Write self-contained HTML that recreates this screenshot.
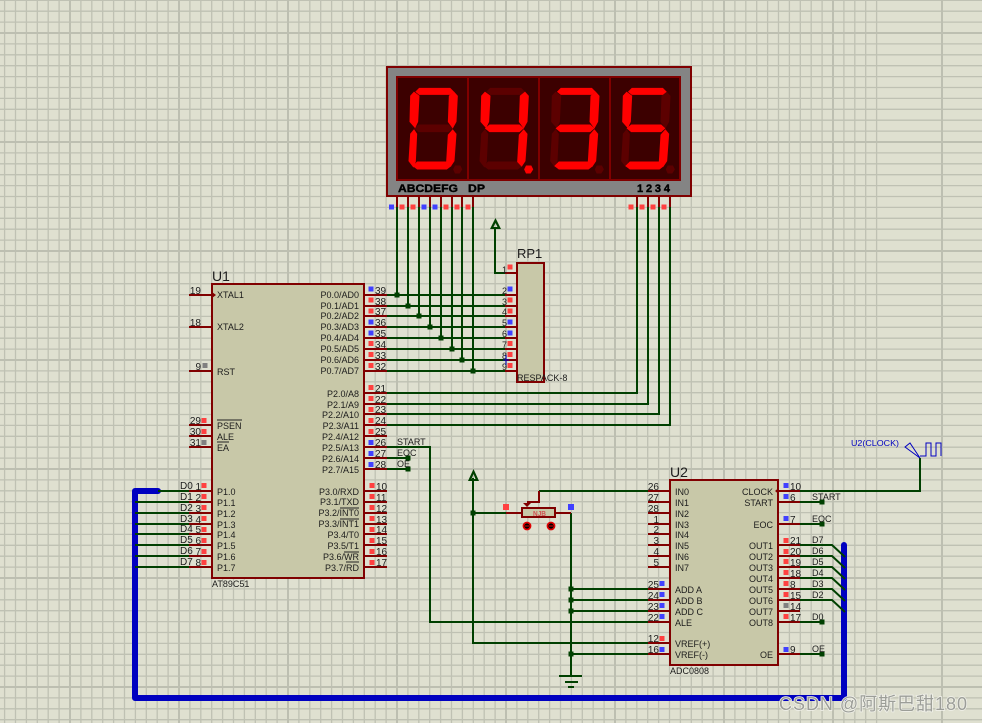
<!DOCTYPE html>
<html><head><meta charset="utf-8"><style>
html,body{margin:0;padding:0;background:#dfe0d0}
svg{display:block}
text{font-family:"Liberation Sans","Noto Sans CJK SC",sans-serif;font-size:9px;fill:#1c1c1c}
.r{text-anchor:end}
.n{font-size:10px}
.big{font-size:14px}
</style></head><body>
<svg width="982" height="723" viewBox="0 0 982 723" xmlns="http://www.w3.org/2000/svg">
<rect width="982" height="723" fill="#dfe0d0"/>
<path fill="none" stroke="#bfc1b3" stroke-width="1.300" d="M4.600 0v723m10.900-723v723m10.900-723v723m10.900-723v723m10.900-723v723m10.900-723v723m21.800-723v723m10.900-723v723m10.900-723v723m10.900-723v723m10.900-723v723m10.900-723v723m10.900-723v723m10.900-723v723m10.900-723v723m21.800-723v723m10.900-723v723m10.900-723v723m10.900-723v723m10.900-723v723m10.900-723v723m10.900-723v723m10.900-723v723m10.900-723v723m21.800-723v723m10.900-723v723m10.900-723v723m10.900-723v723m10.900-723v723m10.900-723v723m10.900-723v723m10.900-723v723m10.900-723v723m21.800-723v723m10.900-723v723m10.900-723v723m10.900-723v723m10.900-723v723m10.900-723v723m10.900-723v723m10.900-723v723m10.900-723v723m21.800-723v723m10.900-723v723m10.900-723v723m10.900-723v723m10.900-723v723m10.900-723v723m10.900-723v723m10.900-723v723m10.900-723v723m21.800-723v723m10.900-723v723m10.900-723v723m10.900-723v723m10.900-723v723m10.900-723v723m10.900-723v723m10.900-723v723m10.900-723v723m21.800-723v723m10.900-723v723m10.900-723v723m10.900-723v723m10.900-723v723m10.900-723v723m10.900-723v723m10.900-723v723m10.900-723v723m21.800-723v723m10.900-723v723m10.900-723v723m10.900-723v723"/>
<path fill="none" stroke="#bfc1b3" stroke-width="1.300" d="M0 .3h982m-982 10.900h982m-982 10.900h982m-982 21.800h982m-982 10.900h982m-982 10.900h982m-982 10.900h982m-982 10.900h982m-982 10.900h982m-982 10.900h982m-982 10.900h982m-982 10.900h982m-982 21.800h982m-982 10.900h982m-982 10.900h982m-982 10.900h982m-982 10.900h982m-982 10.900h982m-982 10.900h982m-982 10.900h982m-982 10.900h982m-982 21.800h982m-982 10.900h982m-982 10.900h982m-982 10.900h982m-982 10.900h982m-982 10.900h982m-982 10.900h982m-982 10.900h982m-982 10.900h982m-982 21.800h982m-982 10.900h982m-982 10.900h982m-982 10.900h982m-982 10.900h982m-982 10.900h982m-982 10.900h982m-982 10.900h982m-982 10.900h982m-982 21.800h982m-982 10.900h982m-982 10.900h982m-982 10.900h982m-982 10.900h982m-982 10.900h982m-982 10.900h982m-982 10.900h982m-982 10.900h982m-982 21.800h982m-982 10.900h982m-982 10.900h982m-982 10.900h982m-982 10.900h982m-982 10.900h982m-982 10.900h982m-982 10.900h982m-982 10.900h982m-982 21.800h982m-982 10.900h982m-982 10.900h982m-982 10.900h982"/>
<path fill="none" stroke="#bdbfb1" stroke-width="2" d="M70 0v723M179 0v723M288 0v723M397 0v723M506 0v723M615 0v723M724 0v723M833 0v723M942 0v723M0 33h982M0 142h982M0 251h982M0 360h982M0 469h982M0 578h982M0 687h982"/>

<!-- bus -->
<path d="M158 491H135V698H844V545" fill="none" stroke="#0000c0" stroke-width="6" stroke-linecap="round" stroke-linejoin="round"/>

<!-- green wires -->
<path fill="none" stroke="#004000" stroke-width="2" shape-rendering="crispEdges" d="M397 207V295M408 207V306M419 207V316M430 207V327M441 207V338M452 207V349M462 207V360M473 207V371M387 295H505M387 306H505M387 316H505M387 327H505M387 338H505M387 349H505M387 360H505M387 371H505M387 393H637V207M387 404H648V207M387 414H659V207M387 425H670V207M387 447H430V622H648M387 458H408M387 469H408M495 228V273H505M158 491H189M135 502H189M135 513H189M135 524H189M135 534H189M135 545H189M135 556H189M135 567H189M473 478V643H648M473 513H506M571 513V676M571 589H648M571 600H648M571 611H648M571 654H648M559 676H582M565 682H578M568 687H574M800 491H920V458M800 502H822M800 524H822M800 622H822M800 654H822"/>
<path fill="none" stroke="#004000" stroke-width="2" d="M539 491H648M800 545H832L845 557M800 556H832L845 568M800 567H832L845 579M800 578H832L845 590M800 589H832L845 601M800 600H832L845 612"/>
<path fill="#004000" d="M394.500 292.500h5v5h-5zM405.500 303.500h5v5h-5zM416.500 313.500h5v5h-5zM427.500 324.500h5v5h-5zM438.500 335.500h5v5h-5zM449.500 346.500h5v5h-5zM459.500 357.500h5v5h-5zM470.500 368.500h5v5h-5zM405.500 455.500h5v5h-5zM405.500 466.500h5v5h-5zM470.500 510.500h5v5h-5zM568.500 586.500h5v5h-5zM568.500 597.500h5v5h-5zM568.500 608.500h5v5h-5zM568.500 651.500h5v5h-5zM819.500 499.500h5v5h-5zM819.500 521.500h5v5h-5zM819.500 619.500h5v5h-5zM819.500 651.500h5v5h-5z"/>
<path d="M473.500 469L468 481H479Z M473.500 474L471.500 479H475.500Z" fill="#004000" fill-rule="evenodd"/>
<path d="M495.500 218L490 229H501Z M495.500 223L493.500 227H497.500Z" fill="#004000" fill-rule="evenodd"/>

<!-- red pins -->
<path fill="none" stroke="#800000" stroke-width="2" shape-rendering="crispEdges" d="M397 196V207M408 196V207M419 196V207M430 196V207M441 196V207M452 196V207M462 196V207M473 196V207M637 196V207M648 196V207M659 196V207M670 196V207
M189 295H212M189 327H212M189 371H212M189 425H212M189 436H212M189 447H212M189 491H212M189 502H212M189 513H212M189 524H212M189 534H212M189 545H212M189 556H212M189 567H212
M365 295H387M365 306H387M365 316H387M365 327H387M365 338H387M365 349H387M365 360H387M365 371H387M365 393H387M365 404H387M365 414H387M365 425H387M365 436H387M365 447H387M365 458H387M365 469H387M365 491H387M365 502H387M365 513H387M365 524H387M365 534H387M365 545H387M365 556H387M365 567H387
M505 273H517M505 295H517M505 306H517M505 316H517M505 327H517M505 338H517M505 349H517M505 360H517M505 371H517
M648 491H670M648 502H670M648 513H670M648 524H670M648 534H670M648 545H670M648 556H670M648 567H670M648 589H670M648 600H670M648 611H670M648 622H670M648 643H670M648 654H670
M778 491H800M778 502H800M778 524H800M778 545H800M778 556H800M778 567H800M778 578H800M778 589H800M778 600H800M778 611H800M778 622H800M778 654H800
M506 513H522M555 513H571M539 491V502H527"/>

<!-- display -->
<rect x="387" y="67" width="304" height="129" fill="#848484" stroke="#800000" stroke-width="2"/>
<rect x="397" y="77" width="283" height="103" fill="#3c0000" stroke="#800000" stroke-width="2"/>
<path d="M468 77V180M539 77V180M610 77V180" stroke="#800000" stroke-width="2"/>
<defs>
<polygon id="a" points="108,95 118,85 210,85 220,95 210,103 118,103"/>
<polygon id="f" points="92,108 102,97 117,108 113,185 105,202 90,185"/>
<polygon id="b" points="222,97 232,108 228,185 218,203 205,185 208,108"/>
<polygon id="g" points="104,205 116,195 205,195 216,205 205,215 116,215"/>
<polygon id="e" points="92,222 102,210 110,222 106,305 100,320 87,303"/>
<polygon id="c" points="218,210 228,222 222,303 212,318 200,305 205,225"/>
<polygon id="d" points="100,318 112,306 200,306 212,318 200,327 112,327"/>
<polygon id="p" points="226,318 240,318 245,328 238,339 226,339 221,328"/>
</defs>
<g transform="translate(380 60) scale(.33333)" stroke-width="3">
<g fill="#5c0000" stroke="#5c0000"><use href="#g"/><use href="#p"/></g>
<g fill="#ff0000" stroke="#ff0000"><use href="#a"/><use href="#f"/><use href="#b"/><use href="#e"/><use href="#c"/><use href="#d"/></g>
<g transform="translate(213 0)"><g fill="#5c0000" stroke="#5c0000"><use href="#a"/><use href="#e"/><use href="#d"/></g><g fill="#ff0000" stroke="#ff0000"><use href="#f"/><use href="#b"/><use href="#g"/><use href="#c"/><use href="#p"/></g></g>
<g transform="translate(425 0)"><g fill="#5c0000" stroke="#5c0000"><use href="#f"/><use href="#e"/><use href="#p"/></g><g fill="#ff0000" stroke="#ff0000"><use href="#a"/><use href="#b"/><use href="#g"/><use href="#c"/><use href="#d"/></g></g>
<g transform="translate(638 0)"><g fill="#5c0000" stroke="#5c0000"><use href="#b"/><use href="#e"/><use href="#p"/></g><g fill="#ff0000" stroke="#ff0000"><use href="#a"/><use href="#f"/><use href="#g"/><use href="#c"/><use href="#d"/></g></g>
</g>
<text x="398" y="192" textLength="60" lengthAdjust="spacingAndGlyphs" style="font-size:11px;font-weight:bold;fill:#000;stroke:#000;stroke-width:.4">ABCDEFG</text>
<text x="468" y="192" textLength="17" lengthAdjust="spacingAndGlyphs" style="font-size:11px;font-weight:bold;fill:#000;stroke:#000;stroke-width:.4">DP</text>
<text x="637" y="192" textLength="33" lengthAdjust="spacing" style="font-size:11px;font-weight:bold;fill:#000;stroke:#000;stroke-width:.4">1234</text>

<!-- pin squares -->
<path fill="#ff4040" d="M399.500 204.500h5v5h-5zM410.500 204.500h5v5h-5zM443.500 204.500h5v5h-5zM454.500 204.500h5v5h-5zM465.500 204.500h5v5h-5zM628.500 204.500h5v5h-5zM639.500 204.500h5v5h-5zM650.500 204.500h5v5h-5zM661.500 204.500h5v5h-5z
M507.500 264.500h5v5h-5zM507.500 308.500h5v5h-5zM507.500 297.500h5v5h-5zM507.500 341h5v5h-5zM507.500 352h5v5h-5zM507.500 363h5v5h-5z
M368.500 297.500h5v5h-5zM368.500 308.500h5v5h-5zM368.500 341h5v5h-5zM368.500 352h5v5h-5zM368.500 363h5v5h-5zM368.500 385h5v5h-5zM368.500 396h5v5h-5zM368.500 407h5v5h-5zM368.500 418h5v5h-5zM368.500 429h5v5h-5z
M369.500 483h5v5h-5zM369.500 494h5v5h-5zM369.500 505h5v5h-5zM369.500 516h5v5h-5zM369.500 527h5v5h-5zM369.500 538h5v5h-5zM369.500 549h5v5h-5zM369.500 560h5v5h-5z
M201.500 418h5v5h-5zM201.500 429h5v5h-5zM201.500 483h5v5h-5zM201.500 494h5v5h-5zM201.500 505h5v5h-5zM201.500 516h5v5h-5zM201.500 527h5v5h-5zM201.500 538h5v5h-5zM201.500 549h5v5h-5zM201.500 560h5v5h-5z
M503 504h6v6h-6zM659.500 636h5v5h-5zM783.500 538h5v5h-5zM783.500 549h5v5h-5zM783.500 559h5v5h-5zM783.500 570h5v5h-5zM783.500 581h5v5h-5zM783.500 592h5v5h-5zM783.500 614h5v5h-5z"/>
<path fill="#4040ff" d="M389 204.500h5v5h-5zM421.500 204.500h5v5h-5zM432.500 204.500h5v5h-5zM507.500 286.500h5v5h-5zM507.500 319.500h5v5h-5zM507.500 330.500h5v5h-5z
M368.500 286.500h5v5h-5zM368.500 319.500h5v5h-5zM368.500 330.500h5v5h-5zM368.500 440h5v5h-5zM368.500 451h5v5h-5zM368.500 462h5v5h-5z
M568 504h6v6h-6zM659.500 581h5v5h-5zM659.500 592h5v5h-5zM659.500 603h5v5h-5zM659.500 614h5v5h-5zM659.500 647h5v5h-5zM783.500 483h5v5h-5zM783.500 494h5v5h-5zM783.500 516h5v5h-5zM783.500 647h5v5h-5z"/>
<path fill="#808080" d="M202.500 363h5v5h-5zM201.500 440h5v5h-5zM783.500 603h5v5h-5z"/>

<!-- RP1 -->
<rect x="517" y="263" width="27" height="119" fill="#c8c8a8" stroke="#800000" stroke-width="2"/>
<text x="517" y="258" class="big" style="font-size:13px">RP1</text>
<text x="517" y="381">RESPACK-8</text>
<g class="n"><text x="507" y="273" class="r">1</text><text x="507" y="294" class="r">2</text><text x="507" y="305" class="r">3</text><text x="507" y="315" class="r">4</text><text x="507" y="326" class="r">5</text><text x="507" y="337" class="r">6</text><text x="507" y="348" class="r">7</text><text x="507" y="359" class="r">8</text><text x="507" y="370" class="r">9</text></g>
<path d="M506 355V365M503 360H509" stroke="#0000c0" stroke-width="1"/>

<!-- U1 -->
<rect x="212" y="284" width="152" height="294" fill="#c8c8a8" stroke="#800000" stroke-width="2"/>
<path d="M212 292L216 295L212 298Z" fill="#800000"/>
<text x="212" y="281" class="big">U1</text>
<text x="212" y="587">AT89C51</text>
<text x="217" y="298">XTAL1</text><text x="217" y="330">XTAL2</text><text x="217" y="375">RST</text>
<text x="217" y="429">PSEN</text><text x="217" y="440">ALE</text><text x="217" y="451">EA</text>
<path d="M217 420H242M217 442H229" stroke="#222" stroke-width="1"/>
<text x="217" y="495">P1.0</text><text x="217" y="506">P1.1</text><text x="217" y="517">P1.2</text><text x="217" y="528">P1.3</text><text x="217" y="538">P1.4</text><text x="217" y="549">P1.5</text><text x="217" y="560">P1.6</text><text x="217" y="571">P1.7</text>
<g>
<text x="359" y="298" class="r">P0.0/AD0</text><text x="359" y="309" class="r">P0.1/AD1</text><text x="359" y="319" class="r">P0.2/AD2</text><text x="359" y="330" class="r">P0.3/AD3</text><text x="359" y="341" class="r">P0.4/AD4</text><text x="359" y="352" class="r">P0.5/AD5</text><text x="359" y="363" class="r">P0.6/AD6</text><text x="359" y="374" class="r">P0.7/AD7</text>
<text x="359" y="397" class="r">P2.0/A8</text><text x="359" y="408" class="r">P2.1/A9</text><text x="359" y="418" class="r">P2.2/A10</text><text x="359" y="429" class="r">P2.3/A11</text><text x="359" y="440" class="r">P2.4/A12</text><text x="359" y="451" class="r">P2.5/A13</text><text x="359" y="462" class="r">P2.6/A14</text><text x="359" y="473" class="r">P2.7/A15</text>
<text x="359" y="495" class="r">P3.0/RXD</text><text x="359" y="505" class="r">P3.1/TXD</text><text x="359" y="516" class="r">P3.2/INT0</text><text x="359" y="527" class="r">P3.3/INT1</text><text x="359" y="538" class="r">P3.4/T0</text><text x="359" y="549" class="r">P3.5/T1</text><text x="359" y="560" class="r">P3.6/WR</text><text x="359" y="571" class="r">P3.7/RD</text>
</g>
<path d="M340 508H359M340 519H359M344 552H359M346 562H359" stroke="#222" stroke-width="1"/>
<g>
<text x="201" y="294" class="r n">19</text><text x="201" y="326" class="r n">18</text><text x="201" y="370" class="r n">9</text><text x="201" y="424" class="r n">29</text><text x="201" y="435" class="r n">30</text><text x="201" y="446" class="r n">31</text>
<text x="201" y="490" class="r n">1</text><text x="201" y="501" class="r n">2</text><text x="201" y="512" class="r n">3</text><text x="201" y="523" class="r n">4</text><text x="201" y="533" class="r n">5</text><text x="201" y="544" class="r n">6</text><text x="201" y="555" class="r n">7</text><text x="201" y="566" class="r n">8</text>
<text x="180" y="489" class="n">D0</text><text x="180" y="500" class="n">D1</text><text x="180" y="511" class="n">D2</text><text x="180" y="522" class="n">D3</text><text x="180" y="532" class="n">D4</text><text x="180" y="543" class="n">D5</text><text x="180" y="554" class="n">D6</text><text x="180" y="565" class="n">D7</text>
<text x="375" y="294" class="n">39</text><text x="375" y="305" class="n">38</text><text x="375" y="315" class="n">37</text><text x="375" y="326" class="n">36</text><text x="375" y="337" class="n">35</text><text x="375" y="348" class="n">34</text><text x="375" y="359" class="n">33</text><text x="375" y="370" class="n">32</text>
<text x="375" y="392" class="n">21</text><text x="375" y="403" class="n">22</text><text x="375" y="413" class="n">23</text><text x="375" y="424" class="n">24</text><text x="375" y="435" class="n">25</text><text x="375" y="446" class="n">26</text><text x="375" y="457" class="n">27</text><text x="375" y="468" class="n">28</text>
<text x="376" y="490" class="n">10</text><text x="376" y="501" class="n">11</text><text x="376" y="512" class="n">12</text><text x="376" y="523" class="n">13</text><text x="376" y="533" class="n">14</text><text x="376" y="544" class="n">15</text><text x="376" y="555" class="n">16</text><text x="376" y="566" class="n">17</text>
<text x="397" y="445">START</text><text x="397" y="456">EOC</text><text x="397" y="467">OE</text>
</g>

<!-- pot -->
<rect x="522" y="508" width="33" height="9" fill="#c8c8a8" stroke="#800000" stroke-width="2"/>
<text x="533" y="516" textLength="13" lengthAdjust="spacingAndGlyphs" style="font-size:7px;font-weight:bold;fill:#d05050">NJB</text>
<path d="M523 503H531L527 507Z" fill="#800000"/>
<g fill="#000" stroke="#e00000" stroke-width="1.800"><circle cx="527" cy="526" r="3.500"/><circle cx="551" cy="526" r="3.500"/></g>
<path d="M525 526H529M549 526H553" stroke="#e00000" stroke-width="1"/>

<!-- U2 -->
<rect x="670" y="480" width="108" height="185" fill="#c8c8a8" stroke="#800000" stroke-width="2"/>
<path d="M778 488.500L775 491L778 493.500Z" fill="#800000"/>
<text x="670" y="477" class="big">U2</text>
<text x="670" y="674">ADC0808</text>
<text x="675" y="495">IN0</text><text x="675" y="506">IN1</text><text x="675" y="517">IN2</text><text x="675" y="528">IN3</text><text x="675" y="538">IN4</text><text x="675" y="549">IN5</text><text x="675" y="560">IN6</text><text x="675" y="571">IN7</text>
<text x="675" y="593">ADD A</text><text x="675" y="604">ADD B</text><text x="675" y="615">ADD C</text><text x="675" y="626">ALE</text><text x="675" y="647">VREF(+)</text><text x="675" y="658">VREF(-)</text>
<text x="773" y="495" class="r">CLOCK</text><text x="773" y="506" class="r">START</text><text x="773" y="528" class="r">EOC</text><text x="773" y="549" class="r">OUT1</text><text x="773" y="560" class="r">OUT2</text><text x="773" y="571" class="r">OUT3</text><text x="773" y="582" class="r">OUT4</text><text x="773" y="593" class="r">OUT5</text><text x="773" y="604" class="r">OUT6</text><text x="773" y="615" class="r">OUT7</text><text x="773" y="626" class="r">OUT8</text><text x="773" y="658" class="r">OE</text>
<text x="659" y="490" class="r n">26</text><text x="659" y="501" class="r n">27</text><text x="659" y="512" class="r n">28</text><text x="659" y="523" class="r n">1</text><text x="659" y="533" class="r n">2</text><text x="659" y="544" class="r n">3</text><text x="659" y="555" class="r n">4</text><text x="659" y="566" class="r n">5</text><text x="659" y="588" class="r n">25</text><text x="659" y="599" class="r n">24</text><text x="659" y="610" class="r n">23</text><text x="659" y="621" class="r n">22</text><text x="659" y="642" class="r n">12</text><text x="659" y="653" class="r n">16</text>
<text x="790" y="490" class="n">10</text><text x="790" y="501" class="n">6</text><text x="790" y="523" class="n">7</text><text x="790" y="544" class="n">21</text><text x="790" y="555" class="n">20</text><text x="790" y="566" class="n">19</text><text x="790" y="577" class="n">18</text><text x="790" y="588" class="n">8</text><text x="790" y="599" class="n">15</text><text x="790" y="610" class="n">14</text><text x="790" y="621" class="n">17</text><text x="790" y="653" class="n">9</text>
<text x="812" y="500">START</text><text x="812" y="522">EOC</text><text x="812" y="543">D7</text><text x="812" y="554">D6</text><text x="812" y="565">D5</text><text x="812" y="576">D4</text><text x="812" y="587">D3</text><text x="812" y="598">D2</text><text x="812" y="620">D0</text><text x="812" y="652">OE</text>

<!-- generator -->
<text x="851" y="446" style="font-size:8.500px;fill:#0000c0" textLength="48" lengthAdjust="spacingAndGlyphs">U2(CLOCK)</text>
<path d="M905 447L910 443L920 458ZM920 456H926V443H931V456H936V443H941V456" fill="none" stroke="#0000c0" stroke-width="1"/>

<!-- watermark -->
<text x="779" y="710" textLength="188" lengthAdjust="spacing" style="font-size:18px;fill:#9c9e98;stroke:#f2f2ec;stroke-width:1.500;paint-order:stroke">CSDN @阿斯巴甜180</text>
</svg>
</body></html>
